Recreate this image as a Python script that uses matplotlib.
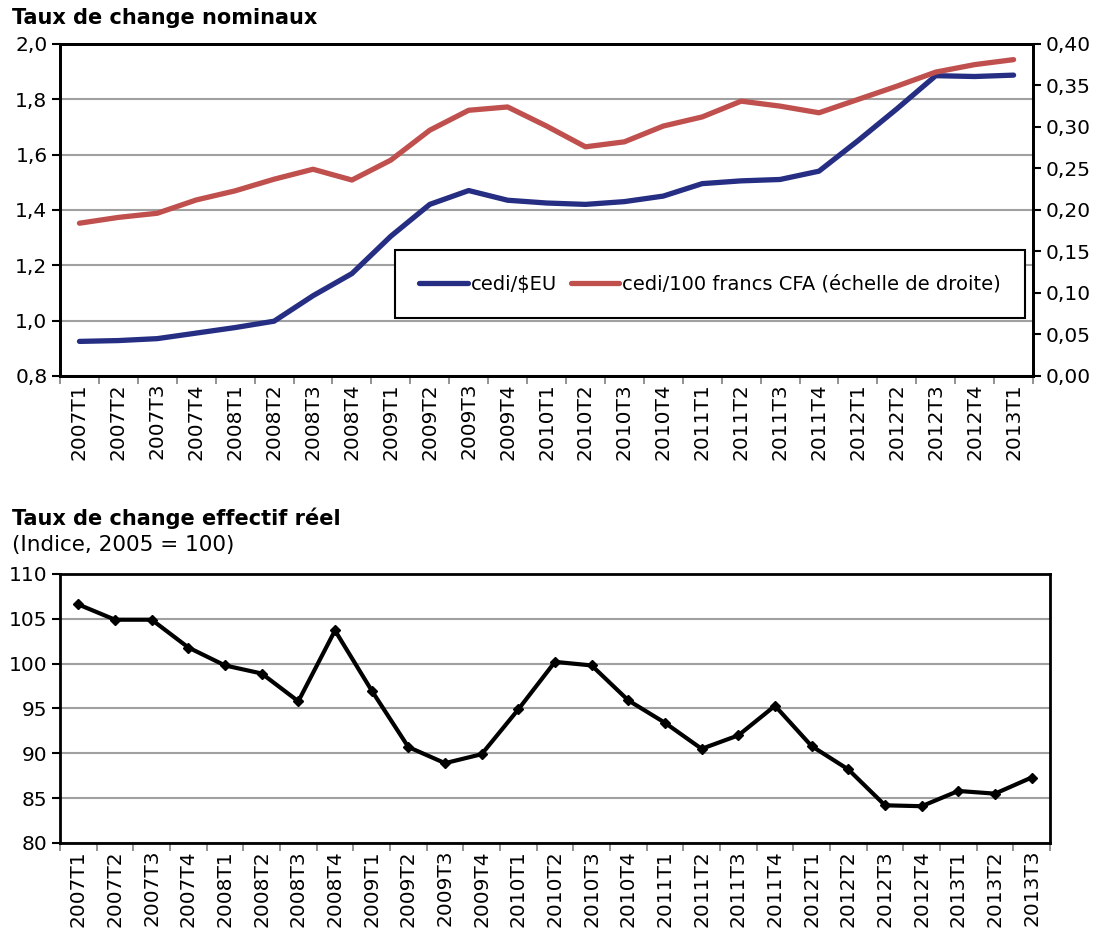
import numpy as np
import matplotlib.pyplot as plt

plt.rcParams['font.family'] = ['DejaVu Sans']

## the data
quarters_top = ['2007T1', '2007T2', '2007T3', '2007T4', '2008T1', '2008T2', '2008T3', '2008T4',
                '2009T1', '2009T2', '2009T3', '2009T4', '2010T1', '2010T2', '2010T3', '2010T4',
                '2011T1', '2011T2', '2011T3', '2011T4', '2012T1', '2012T2', '2012T3', '2012T4',
                '2013T1']
cedi_usd = [0.925, 0.928, 0.935, 0.955, 0.975, 0.998, 1.09, 1.17,
            1.305, 1.42, 1.47, 1.435, 1.425, 1.42, 1.43, 1.45,
            1.495, 1.505, 1.51, 1.54, 1.65, 1.765, 1.885, 1.882,
            1.887]
cedi_cfa = [0.184, 0.191, 0.196, 0.212, 0.223, 0.237, 0.249, 0.236,
            0.260, 0.296, 0.320, 0.324, 0.301, 0.276, 0.282, 0.301,
            0.312, 0.331, 0.325, 0.317, 0.333, 0.349, 0.366, 0.375,
            0.381]

quarters_bot = quarters_top + ['2013T2', '2013T3']
tcer = [106.6, 104.9, 104.9, 101.8, 99.8, 98.9, 95.8, 103.7,
        97.0, 90.7, 88.9, 89.9, 94.9, 100.2, 99.8, 95.9,
        93.4, 90.5, 92.0, 95.3, 90.8, 88.2, 84.2, 84.1,
        85.8, 85.5, 87.3]

blue = '#252E82'
red = '#C0504D'
grid_col = '#A0A0A0'
fs = 14.5

fig = plt.figure(figsize=(11.07, 9.33), dpi=100)


def style_axes(ax, n):
    ax.set_xlim(-0.5, n - 0.5)
    ax.set_xticks(np.arange(n + 1) - 0.5)
    ax.set_xticklabels([])
    ax.set_xticks(np.arange(n), minor=True)
    ax.tick_params(axis='x', which='major', length=6, width=1.2, color='#808080')
    ax.tick_params(axis='x', which='minor', length=0, labelsize=fs, pad=5)
    ax.tick_params(axis='y', labelsize=fs, length=6, width=1.5, pad=3)
    ax.yaxis.grid(True, color=grid_col, linewidth=1.5)
    ax.set_axisbelow(True)
    for s in ax.spines.values():
        s.set_linewidth(2)
        s.set_color('black')


# top chart
ax1 = fig.add_axes([0.0542, 0.597, 0.879, 0.356])
x1 = np.arange(len(quarters_top))
style_axes(ax1, len(quarters_top))
ax1.set_xticklabels(quarters_top, minor=True, rotation=90)
ax1.set_ylim(0.8, 2.0)
ax1.set_yticks(np.arange(0.8, 2.01, 0.2))
ax1.set_yticklabels([f'{v:.1f}'.replace('.', ',') for v in np.arange(0.8, 2.01, 0.2)])
l1, = ax1.plot(x1, cedi_usd, color=blue, linewidth=3.8, solid_capstyle='round', zorder=3)

ax1b = ax1.twinx()
ax1b.set_ylim(0, 0.40)
ax1b.set_yticks(np.arange(0, 0.401, 0.05))
ax1b.set_yticklabels([f'{v:.2f}'.replace('.', ',') for v in np.arange(0, 0.401, 0.05)])
ax1b.tick_params(axis='y', labelsize=fs, length=6, width=1.5, pad=3)
for s in ax1b.spines.values():
    s.set_linewidth(2)
l2, = ax1b.plot(x1, cedi_cfa, color=red, linewidth=3.8, solid_capstyle='round', zorder=3)

leg = ax1b.legend([l1, l2], ['cedi/$EU', 'cedi/100 francs CFA (échelle de droite)'],
                  ncol=2, loc='lower right', bbox_to_anchor=(0.992, 0.175),
                  fontsize=fs - 0.5, frameon=True, fancybox=False, framealpha=1,
                  handlelength=2.5, handletextpad=0.15, columnspacing=0.7,
                  borderpad=1.25, borderaxespad=0)
leg.get_frame().set_edgecolor('black')
leg.get_frame().set_linewidth(1.5)

fig.text(0.011, 0.981, 'Taux de change nominaux', fontsize=15, fontweight='bold', va='center')

# bottom chart
ax2 = fig.add_axes([0.0542, 0.0965, 0.8943, 0.2883])
x2 = np.arange(len(quarters_bot))
style_axes(ax2, len(quarters_bot))
ax2.set_xticklabels(quarters_bot, minor=True, rotation=90)
ax2.set_ylim(80, 110)
ax2.set_yticks(np.arange(80, 111, 5))
ax2.plot(x2, tcer, color='black', linewidth=3, marker='D', markersize=5, zorder=3)

fig.text(0.011, 0.445, 'Taux de change effectif réel', fontsize=15, fontweight='bold', va='center')
fig.text(0.011, 0.416, '(Indice, 2005 = 100)', fontsize=15.5, va='center')

fig.savefig('out.png', dpi=100)
